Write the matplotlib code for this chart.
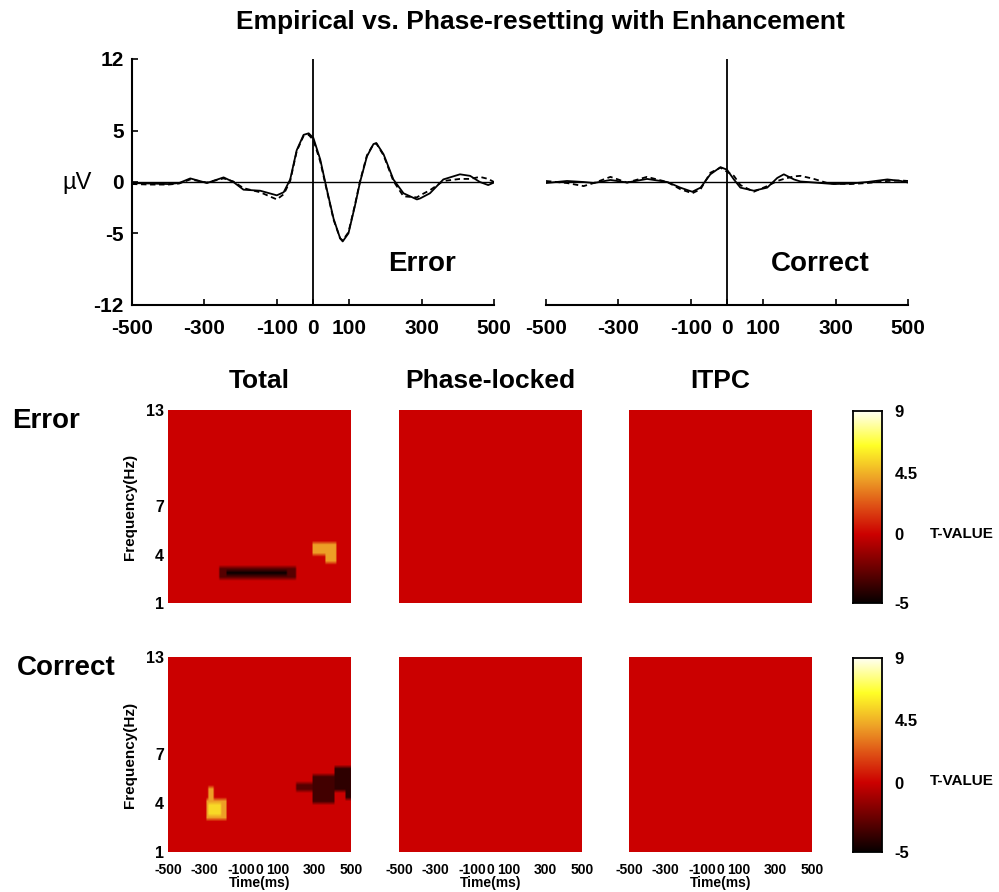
import numpy as np
import matplotlib
matplotlib.use('Agg')
from matplotlib import pyplot as plt
from matplotlib.colors import LinearSegmentedColormap

plt.rcParams['font.family'] = ['Liberation Sans', 'DejaVu Sans']

# ERP waveforms (ms, microvolts)
err_t = [-500, -450, -400, -370, -339, -293, -247, -220, -192, -146, -100, -81, -63, -45, -26,
         -12, 1, 20, 38, 57, 75, 82, 98, 116, 130, 149, 167, 175, 195, 222, 250, 287, 296, 323,
         360, 406, 434, 461, 484, 500]
err_emp = [-0.1, -0.15, -0.2, -0.1, 0.35, -0.1, 0.45, 0.0, -0.75, -0.85, -1.3, -1.0, 0.25, 3.1,
           4.6, 4.75, 4.3, 2.2, -0.7, -3.6, -5.5, -5.8, -5.0, -2.3, 0.0, 2.5, 3.7, 3.8, 2.7, 0.25,
           -1.1, -1.7, -1.6, -1.1, 0.25, 0.75, 0.6, 0.0, -0.3, -0.05]
err_mod = [-0.2, -0.25, -0.25, -0.15, 0.25, -0.05, 0.35, 0.05, -0.6, -1.0, -1.7, -1.2, 0.1, 3.0,
           4.5, 4.6, 4.1, 2.0, -0.8, -3.7, -5.5, -5.7, -4.9, -2.2, 0.1, 2.6, 3.7, 3.75, 2.6, 0.1,
           -1.4, -1.5, -1.3, -0.8, 0.1, 0.3, 0.3, 0.5, 0.3, 0.0]

cor_t = [-500, -442, -396, -368, -322, -276, -221, -165, -129, -96, -73, -46, -18, 0, 19, 37,
         74, 111, 139, 157, 185, 203, 222, 240, 277, 295, 341, 388, 443, 480, 500]
cor_emp = [-0.1, 0.1, 0.0, -0.1, 0.2, -0.05, 0.3, 0.0, -0.55, -0.95, -0.55, 0.75, 1.45, 1.2,
           0.25, -0.55, -0.85, -0.55, 0.4, 0.75, 0.25, 0.05, 0.0, -0.05, -0.15, -0.2, -0.15,
           0.0, 0.25, 0.1, -0.05]
cor_mod = [0.1, -0.1, -0.4, -0.1, 0.5, -0.05, 0.5, 0.0, -0.7, -1.1, -0.7, 0.9, 1.4, 1.0,
           0.6, -0.3, -0.95, -0.4, 0.1, 0.3, 0.55, 0.6, 0.45, 0.3, -0.1, -0.15, -0.2, -0.1,
           0.1, 0.15, 0.1]

erp_xticks = [-500, -300, -100, 0, 100, 300, 500]
erp_yticks = [-12, -5, 0, 5, 12]

# time-frequency T-value patches: (t0, t1, f0, f1, value)
err_total_patches = [(-220, 195, 2.6, 3.25, -3.0), (-180, 150, 2.8, 3.05, -5.0),
                     (287, 423, 4.12, 4.86, 4.0), (358, 423, 3.56, 4.12, 4.0)]
cor_total_patches = [(-285, -185, 3.1, 4.3, 4.0), (-275, -215, 3.3, 4.1, 5.5),
                     (-275, -250, 4.3, 4.95, 4.0),
                     (205, 293, 4.63, 5.25, -3.0), (293, 413, 4.08, 5.74, -3.5),
                     (413, 500, 4.63, 6.35, -4.0), (470, 500, 4.2, 4.63, -4.0)]
tf_xticks = [-500, -300, -100, 0, 100, 300, 500]
tf_yticks = [1, 4, 7, 13]
cbar_ticks = [-5, 0, 4.5, 9]

t_edges = np.arange(-500, 501, 10)
f_edges = np.arange(1, 13.01, 0.25)
tc = (t_edges[:-1] + t_edges[1:]) / 2
fc = (f_edges[:-1] + f_edges[1:]) / 2


def make_map(patches):
  m = np.zeros((len(fc), len(tc)))
  for t0, t1, f0, f1, v in patches:
    sel_f = (fc >= f0) & (fc <= f1)
    sel_t = (tc >= t0) & (tc <= t1)
    m[np.ix_(sel_f, sel_t)] = v
  return m


vmin, vmax = -5, 9
nodes = [(-5, (0.03, 0, 0)), (-2.5, (0.42, 0, 0)), (0, (0.80, 0, 0)), (2, (0.87, 0.30, 0.08)),
         (4, (0.93, 0.62, 0.15)), (6.5, (1.0, 1.0, 0.15)), (9, (1.0, 1.0, 0.95))]
cmap = LinearSegmentedColormap.from_list('tv', [((v - vmin) / (vmax - vmin), c) for v, c in nodes])

W, H = 999, 892
fig = plt.figure(figsize=(W / 100, H / 100), dpi=100)


def box(x0, y0, x1, y1):
  return [x0 / W, 1 - y1 / H, (x1 - x0) / W, (y1 - y0) / H]


fig.text(540 / W, 1 - 22 / H, 'Empirical vs. Phase-resetting with Enhancement',
         ha='center', va='center', fontsize=19, fontweight='bold')

for i, (emp, mod, tt, name) in enumerate([(err_emp, err_mod, err_t, 'Error'),
                                          (cor_emp, cor_mod, cor_t, 'Correct')]):
  x0 = 132 if i == 0 else 546
  ax = fig.add_axes(box(x0, 59, x0 + 362, 305))
  ax.plot(tt, emp, color='black', lw=1.3)
  ax.plot(tt, mod, color='black', lw=1.3, ls=(0, (3, 2)))
  ax.axhline(0, color='black', lw=1)
  ax.axvline(0, color='black', lw=1.3)
  ax.set_xlim(-500, 500)
  ax.set_ylim(-12, 12)
  ax.set_xticks(erp_xticks)
  ax.set_xticklabels([str(v) for v in erp_xticks], fontsize=15, fontweight='bold')
  ax.spines['top'].set_visible(False)
  ax.spines['right'].set_visible(False)
  ax.spines['bottom'].set_linewidth(1.5)
  ax.spines['left'].set_linewidth(1.5)
  ax.tick_params(direction='in', length=4, width=1.2, pad=6)
  ax.tick_params(axis='x', pad=10)
  if i == 0:
    ax.set_yticks(erp_yticks)
    ax.set_yticklabels([str(v) for v in erp_yticks], fontsize=15, fontweight='bold')
  else:
    ax.spines['left'].set_visible(False)
    ax.set_yticks([])
  ax.text(0.895, 0.165, name, transform=ax.transAxes, ha='right', va='center',
          fontsize=20, fontweight='bold')
  ax.patch.set_alpha(0)

fig.text(77 / W, 1 - 183 / H, '\u00b5V', ha='center', va='center', fontsize=17)

cols = [168, 399, 629]
rows = [(410, 603), (657, 852)]
titles = ['Total', 'Phase-locked', 'ITPC']
row_names = ['Error', 'Correct']
row_x = [12, 17]
maps = [[make_map(err_total_patches), make_map([]), make_map([])],
        [make_map(cor_total_patches), make_map([]), make_map([])]]

for r, (y0, y1) in enumerate(rows):
  for c, x0 in enumerate(cols):
    ax = fig.add_axes(box(x0, y0, x0 + 183, y1))
    ax.imshow(maps[r][c], cmap=cmap, vmin=vmin, vmax=vmax, origin='lower', aspect='auto',
              extent=[-500, 500, 1, 13], interpolation='bilinear')
    for s in ax.spines.values():
      s.set_visible(False)
    ax.tick_params(length=0, pad=3)
    if c == 0:
      ax.set_yticks(tf_yticks)
      ax.set_yticklabels([str(v) for v in tf_yticks], fontsize=11.5, fontweight='bold')
      ax.set_ylabel('Frequency(Hz)', fontsize=11, fontweight='bold', labelpad=6)
    else:
      ax.set_yticks([])
    if r == 1:
      ax.set_xticks(tf_xticks)
      ax.set_xticklabels([str(v) for v in tf_xticks], fontsize=10, fontweight='bold')
      ax.tick_params(axis='x', pad=8)
      ax.set_xlabel('Time(ms)', fontsize=10, fontweight='bold', labelpad=-1)
    else:
      ax.set_xticks([])
    if r == 0:
      fig.text((x0 + 91.5) / W, 1 - 381 / H, titles[c], ha='center', va='center',
               fontsize=19, fontweight='bold')
  fig.text(row_x[r] / W, 1 - (y0 + 11) / H, row_names[r], ha='left',
           va='center', fontsize=20, fontweight='bold')

  cax = fig.add_axes(box(853, y0 + 1, 882, y1))
  grad = np.linspace(vmin, vmax, 256).reshape(-1, 1)
  cax.imshow(grad, cmap=cmap, vmin=vmin, vmax=vmax, origin='lower', aspect='auto',
             extent=[0, 1, vmin, vmax])
  cax.set_xticks([])
  cax.yaxis.tick_right()
  cax.set_yticks(cbar_ticks)
  cax.set_yticklabels(['-5', '0', '4.5', '9'], fontsize=12, fontweight='bold')
  cax.tick_params(length=0, pad=9)
  for s in cax.spines.values():
    s.set_linewidth(1.3)
  fig.text(930 / W, 1 - (y0 + 124) / H, 'T-VALUE', ha='left', va='center', fontsize=11,
           fontweight='bold')

fig.savefig('out.png', dpi=100)
